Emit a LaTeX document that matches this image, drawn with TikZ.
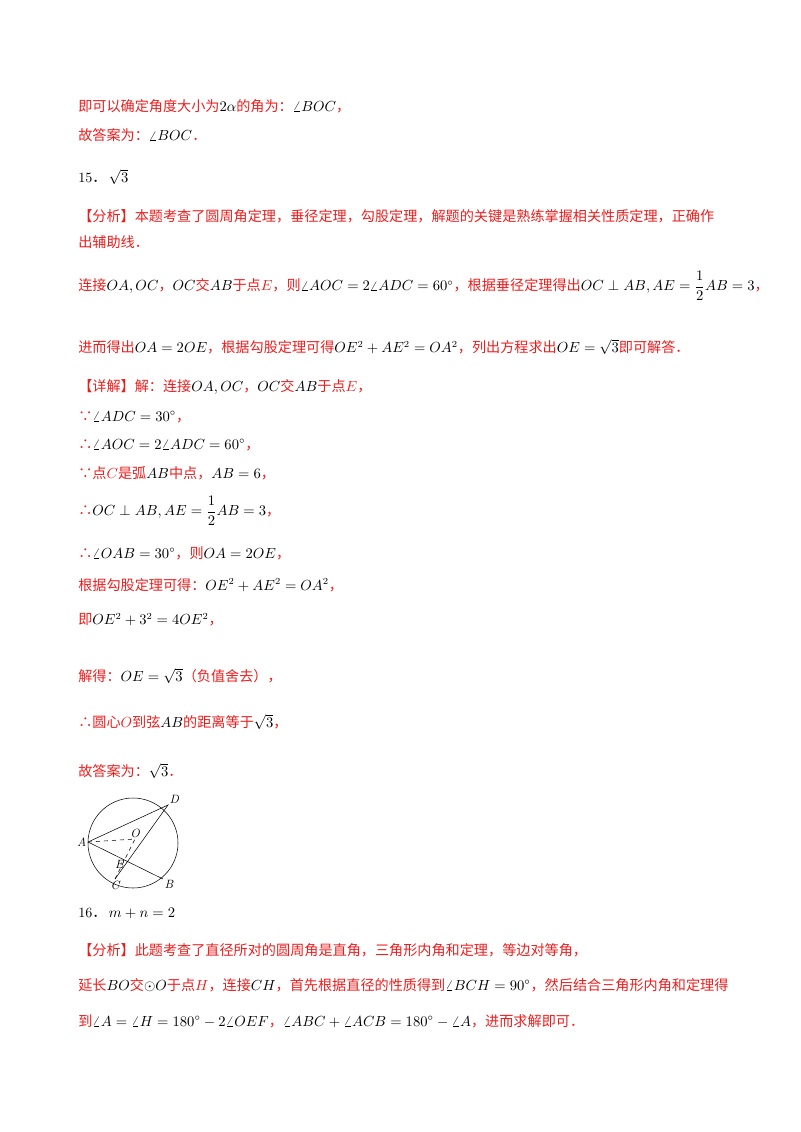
\documentclass[tikz,border=0pt]{standalone}
\usepackage{fontspec}
\newfontfamily\cjk{Noto Sans CJK SC}
\definecolor{rd}{RGB}{235,30,30}
\newcommand{\R}[1]{\textcolor{rd}{\cjk #1}}
\newcommand{\hf}{{\displaystyle\frac12}}
\begin{document}
\begin{tikzpicture}[x=0.75pt,y=-0.75pt,
  ln/.style={anchor=west,inner sep=0,font=\fontsize{10.6}{12}\selectfont},
  pt/.style={font=\fontsize{9}{10}\selectfont\itshape,inner sep=1pt}]
\useasboundingbox (0,0) rectangle (800,1132);
\node[ln] (l1) at (78,106) {\R{即可以确定角度大小为}$2\alpha$\R{的角为：}$\angle BOC$\R{，}};
\node[ln] (l2) at (78,135) {\R{故答案为：}$\angle BOC$\R{．}};
\node[ln] (l3) at (78,177) {15{\cjk ．}\,$\sqrt3$};
\node[ln] (l4) at (78,216) {\R{【分析】本题考查了圆周角定理，垂径定理，勾股定理，解题的关键是熟练掌握相关性质定理，正确作}};
\node[ln] (l5) at (78,242) {\R{出辅助线．}};
\node[ln] (l6) at (78,286) {\R{连接}$OA,OC$\R{，}$OC$\R{交}$AB$\R{于点}\textcolor{rd}{$E$}\R{，则}$\angle AOC=2\angle ADC=60^\circ$\R{，根据垂径定理得出}$OC\perp AB, AE=\hf AB=3$\R{，}};
\node[ln] (l7) at (78,347) {\R{进而得出}$OA=2OE$\R{，根据勾股定理可得}$OE^2+AE^2=OA^2$\R{，列出方程求出}$OE=\sqrt3$\R{即可解答．}};
\node[ln] (l8) at (78,387) {\R{【详解】解：连接}$OA,OC$\R{，}$OC$\R{交}$AB$\R{于点}\textcolor{rd}{$E$}\R{，}};
\node[ln] (l9) at (78,417) {\R{∵}$\angle ADC=30^\circ$\R{，}};
\node[ln] (l10) at (78,445) {\R{∴}$\angle AOC=2\angle ADC=60^\circ$\R{，}};
\node[ln] (l11) at (78,473) {\R{∵点}\textcolor{rd}{$C$}\R{是弧}$AB$\R{中点，}$AB=6$\R{，}};
\node[ln] (l12) at (78,511) {\R{∴}$OC\perp AB, AE=\hf AB=3$\R{，}};
\node[ln] (l13) at (78,553) {\R{∴}$\angle OAB=30^\circ$\R{，则}$OA=2OE$\R{，}};
\node[ln] (l14) at (78,585) {\R{根据勾股定理可得：}$OE^2+AE^2=OA^2$\R{，}};
\node[ln] (l15) at (78,620) {\R{即}$OE^2+3^2=4OE^2$\R{，}};
\node[ln] (l16) at (78,676) {\R{解得：}$OE=\sqrt3$\R{（负值舍去），}};
\node[ln] (l17) at (78,722) {\R{∴圆心}\textcolor{rd}{$O$}\R{到弦}$AB$\R{的距离等于}$\sqrt3$\R{，}};
\node[ln] (l18) at (78,771) {\R{故答案为：}$\sqrt3$\R{．}};
\node[ln] (l19) at (78,913) {16{\cjk ．}\,$m+n=2$};
\node[ln] (l20) at (78,950) {\R{【分析】此题考查了直径所对的圆周角是直角，三角形内角和定理，等边对等角，}};
\node[ln] (l21) at (78,985) {\R{延长}$BO$\R{交}$\odot O$\R{于点}\textcolor{rd}{$H$}\R{，连接}$CH$\R{，首先根据直径的性质得到}$\angle BCH=90^\circ$\R{，然后结合三角形内角和定理得}};
\node[ln] (l22) at (78,1021) {\R{到}$\angle A=\angle H=180^\circ-2\angle OEF$\R{，}$\angle ABC+\angle ACB=180^\circ-\angle A$\R{，进而求解即可．}};
% figure
\coordinate (cc) at (133,843);
\draw[thin] (cc) circle[radius=45];
\coordinate (A) at (88,842);
\coordinate (D) at (168,805);
\coordinate (O) at (135,839);
\coordinate (E) at (125,864);
\coordinate (C) at (115,879);
\coordinate (B) at (163,879);
\draw[thin] (A)--(D)--(C) (A)--(B);
\draw[thin,dashed] (A)--(O)--(C);
\node[pt,left] (nA) at (A) {A};
\node[pt,above right] (nD) at (D) {D};
\node[pt,above] (nO) at (O) {O};
\node[pt,left] (nE) at (E) {E};
\node[pt,below] (nC) at (C) {C};
\node[pt,below right] (nB) at (B) {B};
\end{tikzpicture}
\end{document}
